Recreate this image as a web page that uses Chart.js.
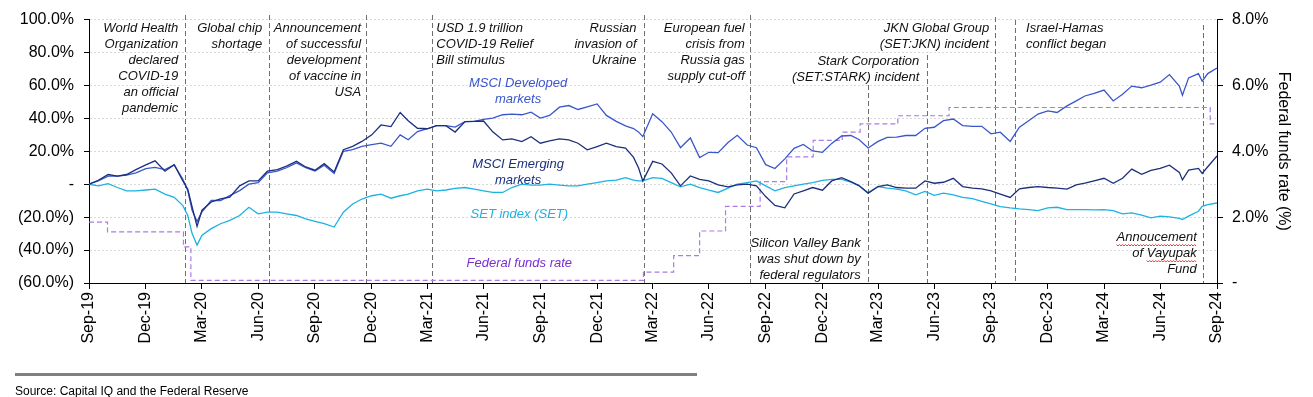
<!DOCTYPE html>
<html>
<head>
<meta charset="utf-8">
<script src="https://cdn.jsdelivr.net/npm/chart.js@4.4.1/dist/chart.umd.min.js"></script>
<style>
  html, body { margin: 0; padding: 0; background: #fff; }
  #wrap { position: relative; width: 1313px; height: 397px; }
  #footLine { position: absolute; left: 15px; top: 373px; width: 682px; height: 3px; background: #808080; }
  #source { position: absolute; left: 15px; top: 384px; font: 12px "Liberation Sans", Arial, sans-serif; line-height: 14px; color: #000; }
</style>
</head>
<body>
<div id="wrap">
  <canvas id="chart" width="1313" height="397"></canvas>
  <div id="footLine"></div>
  <div id="source">Source: Capital IQ and the Federal Reserve</div>
</div>
<script>
// quarter-end ticks
const tickDates = ['2019-09-30','2019-12-31','2020-03-31','2020-06-30','2020-09-30','2020-12-31',
  '2021-03-31','2021-06-30','2021-09-30','2021-12-31','2022-03-31','2022-06-30','2022-09-30',
  '2022-12-31','2023-03-31','2023-06-30','2023-09-30','2023-12-31','2024-03-31','2024-06-30','2024-09-30'];
const tickLabels = ['Sep-19','Dec-19','Mar-20','Jun-20','Sep-20','Dec-20','Mar-21','Jun-21','Sep-21',
  'Dec-21','Mar-22','Jun-22','Sep-22','Dec-22','Mar-23','Jun-23','Sep-23','Dec-23','Mar-24','Jun-24','Sep-24'];

// cumulative return since Sep-19 (%)
const dates = ['2019-09-30','2019-10-15','2019-10-31','2019-11-15','2019-11-30','2019-12-15','2019-12-31',
  '2020-01-15','2020-01-31','2020-02-15','2020-02-29','2020-03-08','2020-03-15','2020-03-23','2020-03-31',
  '2020-04-15','2020-04-30','2020-05-15','2020-05-31','2020-06-15','2020-06-30','2020-07-15','2020-07-31',
  '2020-08-15','2020-08-31','2020-09-15','2020-09-30','2020-10-15','2020-10-31','2020-11-15','2020-11-30',
  '2020-12-15','2020-12-31','2021-01-15','2021-01-31','2021-02-15','2021-02-28','2021-03-15','2021-03-31',
  '2021-04-15','2021-04-30','2021-05-15','2021-05-31','2021-06-15','2021-06-30','2021-07-15','2021-07-31',
  '2021-08-15','2021-08-31','2021-09-15','2021-09-30','2021-10-15','2021-10-31','2021-11-15','2021-11-30',
  '2021-12-15','2021-12-31','2022-01-15','2022-01-31','2022-02-15','2022-02-28','2022-03-08','2022-03-15',
  '2022-03-31','2022-04-15','2022-04-30','2022-05-15','2022-05-31','2022-06-15','2022-06-30','2022-07-15',
  '2022-07-31','2022-08-15','2022-08-31','2022-09-15','2022-09-30','2022-10-15','2022-10-31','2022-11-15',
  '2022-11-30','2022-12-15','2022-12-31','2023-01-15','2023-01-31','2023-02-15','2023-02-28','2023-03-15',
  '2023-03-31','2023-04-15','2023-04-30','2023-05-15','2023-05-31','2023-06-15','2023-06-30','2023-07-15',
  '2023-07-31','2023-08-15','2023-08-31','2023-09-15','2023-09-30','2023-10-15','2023-10-31','2023-11-15',
  '2023-11-30','2023-12-15','2023-12-31','2024-01-15','2024-01-31','2024-02-15','2024-02-29','2024-03-15',
  '2024-03-31','2024-04-15','2024-04-30','2024-05-15','2024-05-31','2024-06-15','2024-06-30','2024-07-15',
  '2024-07-31','2024-08-05','2024-08-15','2024-08-31','2024-09-06','2024-09-15','2024-09-30'];

const developed = [0, 2, 4.9, 4.9, 5.5, 6.9, 9.5,
  10.2, 8.9, 11.8, 3, -4, -15.8, -22.7, -16.7,
  -9.9, -9.9, -6.9, -3.9, 0, 1, 6.9, 7.9,
  10, 13, 10, 8, 11.5, 6.5, 20, 21,
  23, 24, 25, 23, 30, 27, 32, 33.7,
  35.6, 35.6, 34.7, 38, 38.2, 39.4, 40.2, 42.2,
  42.6, 42.2, 43.8, 40.2, 41.8, 46.8, 47.8, 45.4,
  47, 48.8, 41.8, 38.2, 35.4, 33.8, 31.8, 28.9,
  42.8, 38, 31.7, 22.2, 28.1, 16.2, 19.4, 19.2,
  25.3, 29.7, 23.8, 22.2, 11.9, 9.5, 15.4, 21.8,
  24.2, 20.2, 19.4, 24.8, 29.3, 29.6, 27.2, 22,
  26, 28.4, 28.6, 29.6, 29.6, 34, 34.6, 38.6,
  39.6, 35.6, 35.2, 35.2, 30.6, 31.6, 26, 34.6,
  38.6, 42.6, 44.6, 43.6, 47.6, 50.6, 53.6, 55.2,
  57.2, 50.6, 54.6, 59.6, 58.6, 60.2, 62, 66.6,
  59.6, 54, 64.6, 67.2, 62.6, 67.2, 70.6];

const emerging = [0, 2.4, 5.9, 4.9, 5.9, 8.9, 11.8,
  14.2, 7.9, 11.8, 2, -3, -13.8, -25.6, -15.8,
  -10.8, -8.9, -7.9, -1, 2, 2, 7.9, 8.9,
  11, 14, 10.5, 8.5, 12.5, 7.5, 21, 23,
  26, 30, 36, 35, 43.6, 38.6, 34, 33.7,
  35.6, 35.6, 31.7, 38, 38.2, 38.4, 31.8, 26.9,
  27.5, 25.9, 28.9, 24.9, 26.3, 27.5, 26.9, 24.9,
  20.9, 22.9, 24.9, 22.9, 21.9, 16.3, 10, 2,
  13.9, 12.3, 6.9, -1, 5, 3, 2, -0.4,
  -1.6, -0.4, 0, -1, -7.5, -12.9, -14.3, -5.9,
  -4, -2, -3.6, 2, 4, 1.6, -0.8, -5.4,
  -1.4, -0.4, -2, -2.4, -2.4, 2, 0.6, 1.2,
  3.6, -1.4, -2.4, -2.8, -4, -6, -8, -2.8,
  -2, -1.4, -2, -2.4, -3, -0.4, 0.6, 2,
  3.6, 0.6, 3.6, 9.2, 6, 8.4, 9.6, 11.6,
  7.2, 2.6, 8.6, 9.6, 6.6, 10.6, 17.2];

const setIndex = [0, -1, 0.3, -2, -4, -4, -3.5,
  -3, -6, -8, -13, -19, -30, -37, -31,
  -27, -24, -22, -19, -14, -18, -17, -17,
  -18, -19, -21, -22.5, -24, -26, -17, -12,
  -9, -7, -6, -8.5, -7, -6, -4, -3,
  -4, -3.5, -2.5, -2, -3, -4, -5, -5,
  -2, 0, -0.5, -0.5, 0, -0.5, -1, -1,
  0, 1, 2, 2.5, 4, 2.5, 2, 2,
  4, 3.6, 1, -1.6, 0, -2, -3.6, -5,
  -2.4, 0, 1, 2, -1, -4, -2, -1,
  0, 1, 2.4, 3, 3, 1.2, -0.8, -5.4,
  -1.4, -2.4, -3, -4, -6.4, -4.4, -6.8, -5.4,
  -6.4, -8, -8.8, -10.4, -12, -13.6, -14.4, -15,
  -15.4, -16, -14.4, -14, -15.4, -15.4, -15.4, -15.6,
  -15.4, -16, -18, -17.4, -18.8, -20.4, -19.4, -19.8,
  -20.8, -21.4, -19.4, -16.4, -13.4, -12.4, -11.4];

// effective federal funds rate (%), value from each change date
const fedDates = ['2019-09-30','2019-10-30','2020-03-01','2020-03-13','2022-03-16','2022-05-04',
  '2022-06-15','2022-07-27','2022-09-21','2022-11-03','2022-12-16','2023-02-01','2023-03-02',
  '2023-05-02','2023-07-24','2024-09-19','2024-09-30'];
const fedRate = [1.85, 1.55, 1.1, 0.08, 0.33, 0.83, 1.58, 2.33, 3.08, 3.83, 4.33, 4.58, 4.83,
  5.08, 5.33, 4.83, 4.83];

// events
const eventDates = ['2020-03-04','2020-07-17','2020-12-22','2021-04-08','2022-03-17','2022-09-05',
  '2023-03-15','2023-06-18','2023-10-06','2023-11-08','2024-09-07'];
const eventTexts = [
  ['World Health', 'Organization', 'declared', 'COVID-19', 'an official', 'pandemic'],
  ['Global chip', 'shortage'],
  ['Announcement', 'of successful', 'development', 'of vaccine in', 'USA'],
  ['USD 1.9 trillion', 'COVID-19 Relief', 'Bill stimulus'],
  ['Russian', 'invasion of', 'Ukraine'],
  ['European fuel', 'crisis from', 'Russia gas', 'supply cut-off'],
  ['Silicon Valley Bank', 'was shut down by', 'federal regulators'],
  ['Stark Corporation', '(SET:STARK) incident'],
  ['JKN Global Group', '(SET:JKN) incident'],
  ['Israel-Hamas', 'conflict began'],
  ['Annoucement', 'of Vayupak', 'Fund']
];
// side: text to the left (right-aligned) or right of the line; y: first text line centre; top: line start
const eventLayout = [
  { side: 'left', dx: 7, y: 28, top: 15 },
  { side: 'left', dx: 6.5, y: 28, top: 15 },
  { side: 'left', dx: 5, y: 28, top: 15 },
  { side: 'right', dx: 4, y: 28, top: 15 },
  { side: 'left', dx: 7.5, y: 28, top: 15 },
  { side: 'left', dx: 5.5, y: 28, top: 15 },
  { side: 'left', dx: 7.5, y: 243, top: 85 },
  { side: 'left', dx: 7.5, y: 61, top: 55 },
  { side: 'left', dx: 5.5, y: 28, top: 17 },
  { side: 'right', dx: 11, y: 28, top: 20 },
  { side: 'left', dx: 6, y: 237, top: 25 }
];
const squiggly = ['Annoucement', 'Vayupak'];

const colDev = '#3a56cc', colEm = '#1c2f7c', colSet = '#1db2e2', colFed = '#a97ce6';

const seriesLabels = [
  { lines: ['MSCI Developed', 'markets'], date: '2021-08-25', y: 61.5, color: colDev },
  { lines: ['MSCI Emerging', 'markets'], date: '2021-08-25', y: 12, color: colEm },
  { lines: ['SET index (SET)'], date: '2021-08-27', y: -18.3, color: colSet },
  { lines: ['Federal funds rate'], date: '2021-08-27', y: -48.3, color: '#7a2fd2' }
];

const t0 = Date.UTC(2019, 8, 30);
const dayOf = s => (Date.UTC(+s.slice(0, 4), +s.slice(5, 7) - 1, +s.slice(8, 10)) - t0) / 864e5;
const tickDays = tickDates.map(dayOf);
const pts = arr => arr.map((v, i) => ({ x: dayOf(dates[i]), y: v }));

const pct = v => v === 0 ? '-' : v < 0 ? '(' + Math.abs(v).toFixed(1) + '%)' : v.toFixed(1) + '%';

Chart.defaults.font.family = '"Liberation Sans", Arial, sans-serif';
Chart.defaults.color = '#000';

const annotate = {
  id: 'annotate',
  beforeDatasetsDraw(chart) {
    const { ctx, chartArea, scales: { x } } = chart;
    ctx.save();
    ctx.strokeStyle = '#6e6e6e';
    ctx.lineWidth = 1;
    ctx.setLineDash([5, 3]);
    eventDates.forEach((d, i) => {
      const px = Math.round(x.getPixelForValue(dayOf(d))) + 0.5;
      ctx.beginPath();
      ctx.moveTo(px, eventLayout[i].top);
      ctx.lineTo(px, chartArea.bottom);
      ctx.stroke();
    });
    ctx.restore();
  },
  afterDatasetsDraw(chart) {
    const { ctx, scales: { x, y } } = chart;
    ctx.save();
    ctx.font = 'italic 13px "Liberation Sans", Arial, sans-serif';
    ctx.textBaseline = 'middle';
    eventDates.forEach((d, i) => {
      const lay = eventLayout[i];
      const px = x.getPixelForValue(dayOf(d));
      const tx = lay.side === 'left' ? px - lay.dx : px + lay.dx;
      ctx.textAlign = lay.side === 'left' ? 'right' : 'left';
      eventTexts[i].forEach((line, j) => {
        const ty = lay.y + j * 16;
        ctx.fillStyle = '#111';
        ctx.fillText(line, tx, ty);
        squiggly.forEach(word => {
          const k = line.indexOf(word);
          if (k < 0) return;
          const full = ctx.measureText(line).width;
          const x0 = (lay.side === 'left' ? tx - full : tx) + ctx.measureText(line.slice(0, k)).width;
          const x1 = x0 + ctx.measureText(word).width;
          ctx.strokeStyle = '#e0393e';
          ctx.lineWidth = 1;
          ctx.beginPath();
          for (let xx = x0, n = 0; xx <= x1; xx += 1.5, n++) {
            const yy = ty + 8 + (n % 2 ? 1 : -0.5);
            n ? ctx.lineTo(xx, yy) : ctx.moveTo(xx, yy);
          }
          ctx.stroke();
        });
      });
    });
    ctx.textAlign = 'center';
    seriesLabels.forEach(s => {
      const cx = x.getPixelForValue(dayOf(s.date));
      const cy = y.getPixelForValue(s.y);
      ctx.fillStyle = s.color;
      s.lines.forEach((line, j) => ctx.fillText(line, cx, cy + j * 16));
    });
    ctx.restore();
  }
};

new Chart(document.getElementById('chart'), {
  type: 'line',
  data: {
    datasets: [
      { label: 'MSCI Emerging markets', data: pts(emerging), borderColor: colEm, yAxisID: 'y' },
      { label: 'MSCI Developed markets', data: pts(developed), borderColor: colDev, yAxisID: 'y' },
      { label: 'SET index (SET)', data: pts(setIndex), borderColor: colSet, yAxisID: 'y' },
      { label: 'Federal funds rate', data: fedRate.map((v, i) => ({ x: dayOf(fedDates[i]), y: v })),
        borderColor: colFed, borderDash: [5, 3], stepped: true, yAxisID: 'y2', borderWidth: 1.2 }
    ]
  },
  options: {
    responsive: false,
    animation: false,
    events: [],
    layout: { padding: { top: 15, bottom: 54, left: 0, right: 0 } },
    elements: { point: { radius: 0 }, line: { borderWidth: 1.3, tension: 0 } },
    plugins: { legend: { display: false }, tooltip: { enabled: false } },
    scales: {
      x: {
        type: 'linear',
        min: 0,
        max: dayOf('2024-09-30'),
        afterBuildTicks: s => { s.ticks = tickDays.map(v => ({ value: v })); },
        afterFit: s => { s.height = 60; },
        ticks: {
          autoSkip: false, maxRotation: 90, minRotation: 90, padding: 3,
          font: { size: 16 },
          callback: v => { const i = tickDays.indexOf(v); return i >= 0 ? tickLabels[i] : ''; }
        },
        grid: { drawOnChartArea: false, tickLength: 6, tickColor: '#000' },
        border: { color: '#000' }
      },
      y: {
        position: 'left',
        min: -60,
        max: 100,
        afterFit: s => { s.width = 89; },
        ticks: { stepSize: 20, padding: 10, font: { size: 16 }, callback: pct },
        grid: { color: '#d9d9d9', tickLength: 5, tickColor: '#000' },
        border: { color: '#000', dash: [2, 2] }
      },
      y2: {
        position: 'right',
        min: 0,
        max: 8,
        afterFit: s => { s.width = 96; },
        ticks: { stepSize: 2, padding: 9, font: { size: 16 }, callback: v => v === 0 ? '-' : v.toFixed(1) + '%' },
        grid: { drawOnChartArea: false, tickLength: 6, tickColor: '#000' },
        border: { color: '#000' },
        title: { display: true, text: 'Federal funds rate (%)', font: { size: 16 }, color: '#000', padding: { top: 20, bottom: 0 } }
      }
    }
  },
  plugins: [annotate]
});
</script>
</body>
</html>
